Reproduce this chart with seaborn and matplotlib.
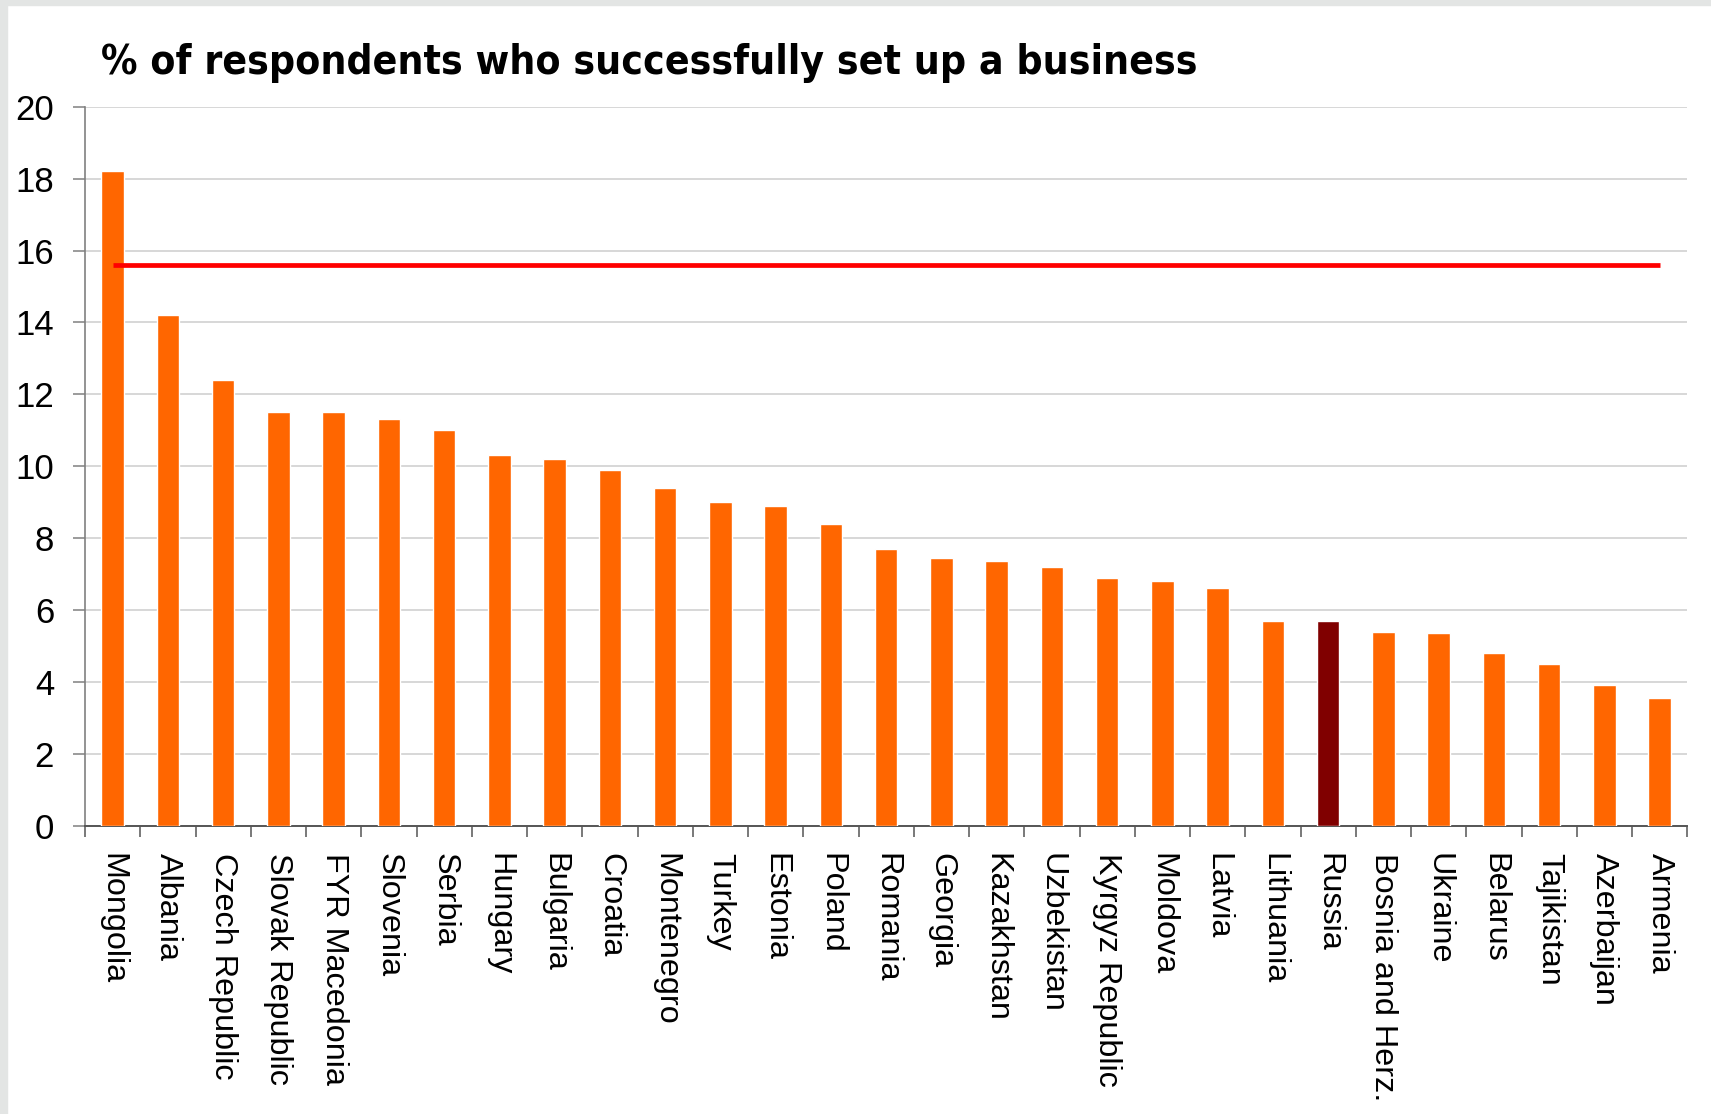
import os
import matplotlib
matplotlib.use("Agg")
import matplotlib.pyplot as plt
from matplotlib import font_manager
from matplotlib.patches import Rectangle
import seaborn as sns
import pandas as pd
import numpy as np

countries = ["Mongolia", "Albania", "Czech Republic", "Slovak Republic", "FYR Macedonia",
             "Slovenia", "Serbia", "Hungary", "Bulgaria", "Croatia", "Montenegro", "Turkey",
             "Estonia", "Poland", "Romania", "Georgia", "Kazakhstan", "Uzbekistan",
             "Kyrgyz Republic", "Moldova", "Latvia", "Lithuania", "Russia", "Bosnia and Herz.",
             "Ukraine", "Belarus", "Tajikistan", "Azerbaijan", "Armenia"]
values = [18.2, 14.2, 12.4, 11.5, 11.5, 11.3, 11.0, 10.3, 10.2, 9.9, 9.4, 9.0,
          8.9, 8.4, 7.7, 7.45, 7.35, 7.2, 6.9, 6.8, 6.6, 5.7, 5.7, 5.4,
          5.35, 4.8, 4.5, 3.9, 3.55]
average_value = 15.6
highlight = "Russia"
title = "% of respondents who successfully set up a business"

sns.set_theme(style="white")

def pick(fam):
    try:
        font_manager.findfont(font_manager.FontProperties(family=fam), fallback_to_default=False)
        return fam
    except Exception:
        return None

regular = pick("Liberation Sans") or "DejaVu Sans"
plt.rcParams["font.family"] = [regular, "DejaVu Sans"]

# look for a narrow / condensed bold face for the title
narrow_bold = None
for f in font_manager.fontManager.ttflist:
    base = os.path.basename(f.fname)
    tag = (f.name + " " + base)
    if ("Narrow" in tag or "Condensed" in tag) and "Bold" in base and "Italic" not in base and "Oblique" not in base:
        if narrow_bold is None or "Liberation" in tag:
            narrow_bold = f.fname

df = pd.DataFrame({"country": countries, "value": values})
palette = {c: ("#800000" if c == highlight else "#FF6600") for c in countries}

W, H = 1711, 1114
fig = plt.figure(figsize=(W / 100, H / 100), dpi=100, facecolor="white")

# light grey frame on left/top
fig.patches.append(Rectangle((0, 0), 7 / W, 1, transform=fig.transFigure, color="#E3E5E4", zorder=0))
fig.patches.append(Rectangle((0, 1 - 5 / H), 1, 5 / H, transform=fig.transFigure, color="#E3E5E4", zorder=0))

x0, x1 = 85.0, 1687.3
y_top, y_bot = 106.7, 825.7
ax = fig.add_axes([x0 / W, 1 - y_bot / H, (x1 - x0) / W, (y_bot - y_top) / H])
sns.barplot(data=df, x="country", y="value", hue="country", palette=palette,
            width=0.41, legend=False, ax=ax, saturation=1, zorder=3)

n = len(countries)
ax.plot(np.arange(n), [average_value] * n, color="#FF0000", lw=3.4, zorder=4, solid_capstyle="butt")

ax.set_xlim(-0.5, n - 0.5)
ax.set_ylim(0, 20)
ax.set_yticks(np.arange(0, 21, 2))
ax.yaxis.grid(True, color="#D4D4D4", lw=1.3, zorder=0)
ax.set_axisbelow(True)
ax.set_xlabel("")
ax.set_ylabel("")

for s in ["top", "right"]:
    ax.spines[s].set_visible(False)
ax.spines["left"].set_color("#808080")
ax.spines["left"].set_linewidth(1.2)
ax.spines["bottom"].set_color("#555555")
ax.spines["bottom"].set_linewidth(1.4)

ax.set_xticks(np.arange(n))
ax.set_xticklabels(countries, rotation=-90, ha="center", va="top",
                   fontsize=23.3, family=[regular, "DejaVu Sans"], color="black")
ax.set_xticks(np.arange(-0.5, n, 1), minor=True)
ax.tick_params(axis="x", which="major", length=0, pad=19.5)
ax.tick_params(axis="x", which="minor", length=8, width=1.1, color="#555555", direction="out", bottom=True)
ax.tick_params(axis="y", which="major", length=8.3, width=1.1, color="#808080", direction="out", left=True, pad=14)
for lab in ax.get_yticklabels():
    lab.set_fontsize(25)
    lab.set_color("black")

# title: narrow bold if available, otherwise fit the width of the original
target_w = 1095.0
if narrow_bold:
    fp = font_manager.FontProperties(fname=narrow_bold, size=36)
else:
    fp = font_manager.FontProperties(family=[regular, "DejaVu Sans"], weight="bold", size=36)
t = fig.text(101.0 / W, 1 - 74 / H, title, fontproperties=fp,
             ha="left", va="baseline", color="black")
fig.canvas.draw()
w = t.get_window_extent(renderer=fig.canvas.get_renderer()).width
if w > 0:
    fp.set_size(min(36, 36 * target_w / w))
    t.set_fontproperties(fp)

fig.savefig("out.png", dpi=100, facecolor="white")
